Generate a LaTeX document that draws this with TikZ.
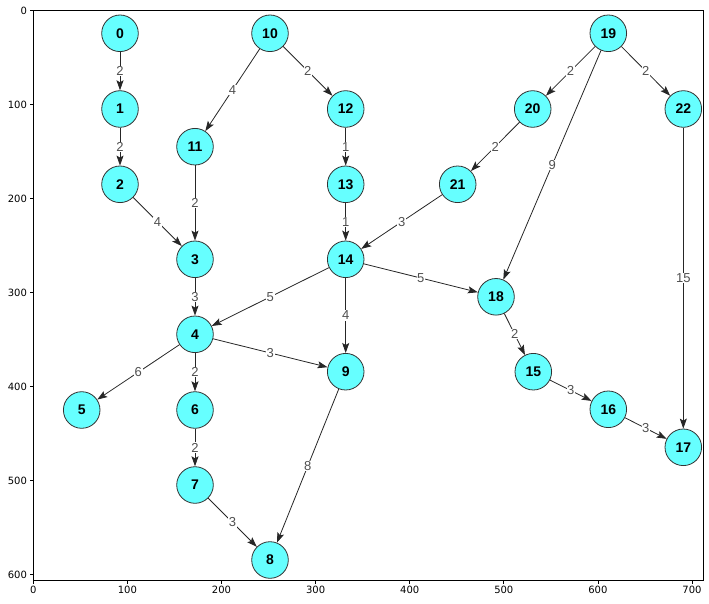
\documentclass[tikz,border=0pt]{standalone}
\usepackage{fontspec}
\setmainfont{DejaVu Sans}
\newfontfamily\arialfont{Liberation Sans}
\usetikzlibrary{arrows.meta}
\definecolor{nodecyan}{RGB}{102,255,255}
\definecolor{weightgray}{RGB}{80,80,80}

\begin{document}
\begin{tikzpicture}[x=1pt,y=-1pt,
  vertex/.style={circle,draw=black!80,fill=nodecyan,line width=0.8pt,minimum size=36.6pt,inner sep=0pt,
    font=\arialfont\bfseries\fontsize{14}{16}\selectfont},
  edge/.style={-{Stealth[length=10pt,width=7pt,inset=2pt]},black!85,line width=0.8pt},
  weight/.style={midway,fill=white,inner sep=0.6pt,text=weightgray,font=\arialfont\fontsize{13}{15}\selectfont},
  tick/.style={line width=0.8pt}]
\useasboundingbox (0,0) rectangle (709,604);
% axes frame and ticks
\draw[line width=0.8pt] (33.3,10.7) rectangle (703.3,580);
\foreach \v in {0,100,...,700}
  \draw[tick] ({33.3+0.941*\v},580) -- ++(0,3.5) node[below,inner sep=2.5pt,font=\fontsize{10}{12}\selectfont] {\v};
\foreach \v in {0,100,...,600}
  \draw[tick] (33.3,{10.7+0.94*\v}) -- ++(-3.5,0) node[left,inner sep=2.5pt,font=\fontsize{10}{12}\selectfont] {\v};
% nodes
\node[vertex] (n0) at (120,33.3) {0};
\node[vertex] (n1) at (120,109) {1};
\node[vertex] (n2) at (120,184.3) {2};
\node[vertex] (n3) at (195,259.3) {3};
\node[vertex] (n4) at (195,334.3) {4};
\node[vertex] (n5) at (81.7,410) {5};
\node[vertex] (n6) at (195,410) {6};
\node[vertex] (n7) at (195,485) {7};
\node[vertex] (n8) at (270,560) {8};
\node[vertex] (n9) at (345.7,371.7) {9};
\node[vertex] (n10) at (270,33.3) {10};
\node[vertex] (n11) at (195,146.7) {11};
\node[vertex] (n12) at (345.7,109) {12};
\node[vertex] (n13) at (345.7,184.3) {13};
\node[vertex] (n14) at (345.7,259.3) {14};
\node[vertex] (n15) at (533.3,371.7) {15};
\node[vertex] (n16) at (608.3,409.3) {16};
\node[vertex] (n17) at (683.3,447.3) {17};
\node[vertex] (n18) at (496,296.8) {18};
\node[vertex] (n19) at (608.3,33.3) {19};
\node[vertex] (n20) at (532.7,109) {20};
\node[vertex] (n21) at (457.7,184.3) {21};
\node[vertex] (n22) at (683.3,109) {22};
% weighted edges
\foreach \a/\b/\w in {n0/n1/2, n1/n2/2, n2/n3/4, n10/n11/4, n10/n12/2, n11/n3/2,
    n12/n13/1, n13/n14/1, n3/n4/3, n14/n4/5, n14/n9/4, n14/n18/5, n21/n14/3,
    n20/n21/2, n19/n20/2, n19/n22/2, n19/n18/9, n22/n17/15, n4/n5/6, n4/n6/2,
    n4/n9/3, n6/n7/2, n7/n8/3, n9/n8/8, n18/n15/2, n15/n16/3, n16/n17/3}
  \draw[edge] (\a) -- (\b) node[weight] {\w};
\end{tikzpicture}
\end{document}
